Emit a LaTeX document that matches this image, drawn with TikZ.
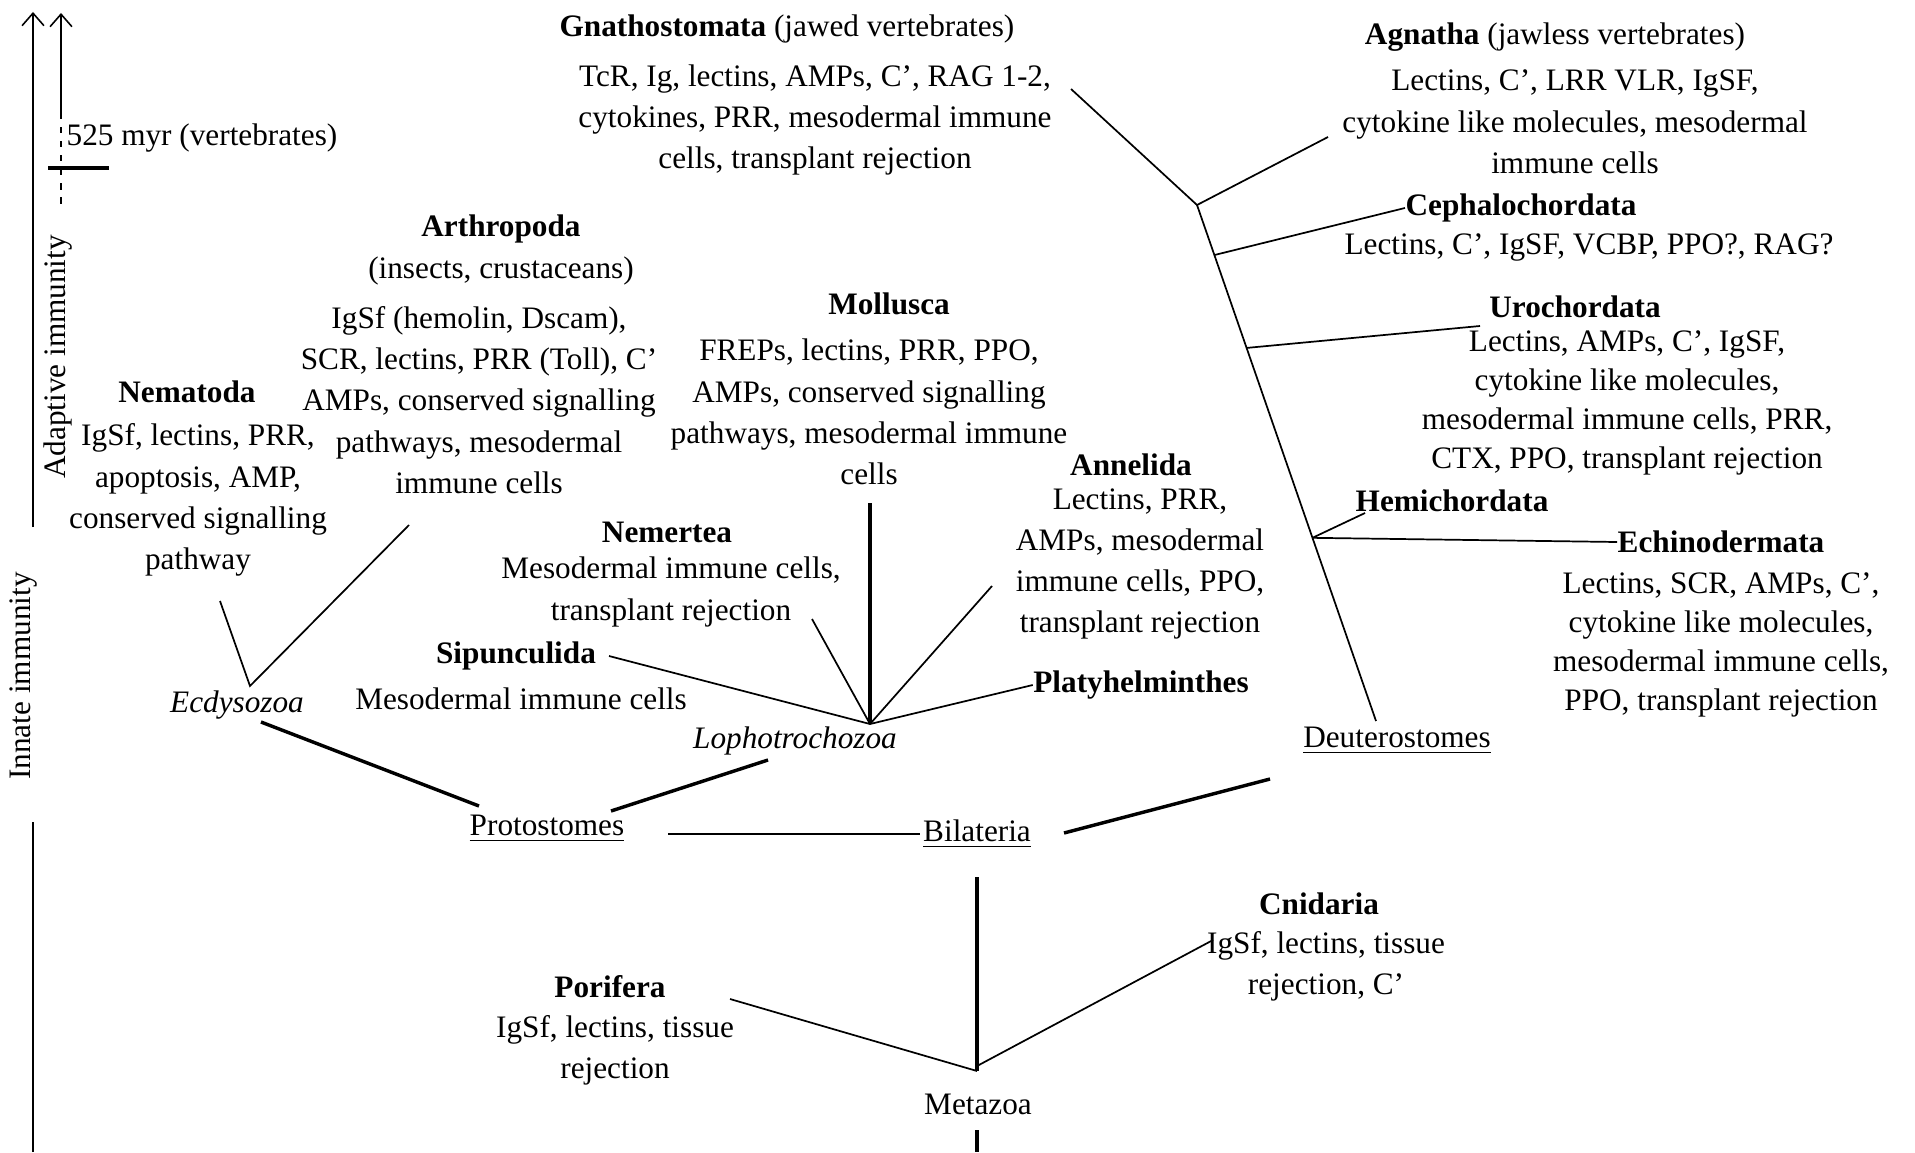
\documentclass[tikz,border=0pt]{standalone}
\usepackage{fontspec}
\setmainfont{Liberation Serif}
\usetikzlibrary{arrows.meta,calc}
\newcommand{\labelsize}{\fontsize{10}{13.2}\selectfont}

\begin{document}
\begin{tikzpicture}[x=0.32pt,y=-0.32pt,font=\labelsize,
    every node/.style={inner sep=0pt},
    taxon/.style={font=\labelsize\bfseries},
    traits/.style={align=center},
    tight/.style={align=center,font=\fontsize{10}{12.5}\selectfont},
    clade/.style={font=\labelsize\itshape},
    branch/.style={line width=0.55pt},
    stem/.style={line width=1.1pt},
    axis/.style={line width=0.5pt,-{Straight Barb[length=4pt,width=7pt]}}]
    \useasboundingbox (0,0) rectangle (1915,1152);

    % time axis
    \coordinate (adtop) at (33,12);
    \coordinate (adbot) at (33,527);
    \coordinate (intop) at (33,822);
    \coordinate (inbot) at (33,1152);
    \coordinate (vtop) at (61,13);
    \coordinate (vmid) at (61,113);
    \coordinate (vbot) at (61,205);
    \coordinate (tickL) at (48,168);
    \coordinate (tickR) at (109,168);
    \draw[axis] (adbot) -- (adtop);
    \draw[line width=0.5pt] (inbot) -- (intop);
    \draw[axis] (vmid) -- (vtop);
    \draw[line width=0.5pt,dash pattern=on 2pt off 2.5pt] (vmid) -- (vbot);
    \draw[line width=1pt] (tickL) -- (tickR);
    \node[anchor=west] (myr) at (66,138) {525 myr (vertebrates)};
    \node[rotate=90] (adapt) at (58,357) {Adaptive immunity};
    \node[rotate=90] (innate) at (24,676) {Innate immunity};

    % deuterostomes
    \node[anchor=west] (gnaH) at (559,29) {\textbf{Gnathostomata} (jawed vertebrates)};
    \node[traits] (gnaB) at (815,120) {TcR, Ig, lectins, AMPs, C', RAG 1-2,\\cytokines, PRR, mesodermal immune\\cells, transplant rejection};
    \node (agnH) at (1555,37) {\textbf{Agnatha} (jawless vertebrates)};
    \node[traits] (agnB) at (1575,122) {Lectins, C', LRR VLR, IgSF,\\cytokine like molecules, mesodermal\\immune cells};
    \node[taxon] (cephH) at (1521,208) {Cephalochordata};
    \node (cephB) at (1589,247) {Lectins, C', IgSF, VCBP, PPO?, RAG?};
    \node[taxon] (uroH) at (1575,307) {Urochordata};
    \node[tight] (uroB) at (1627,403) {Lectins, AMPs, C', IgSF,\\cytokine like molecules,\\mesodermal immune cells, PRR,\\CTX, PPO, transplant rejection};
    \node[taxon] (hemH) at (1452,501) {Hemichordata};
    \node[taxon] (echH) at (1721,542) {Echinodermata};
    \node[tight] (echB) at (1721,645) {Lectins, SCR, AMPs, C',\\cytokine like molecules,\\mesodermal immune cells,\\PPO, transplant rejection};
    \node (deut) at (1397,741) {\underline{Deuterostomes}};

    \coordinate (vert) at (1197,205);
    \coordinate (dbase) at (1376,721);
    \coordinate (gnatip) at (1071,89);
    \coordinate (agntip) at (1328,137);
    \coordinate (cephj) at ($(vert)!0.097!(dbase)$);
    \coordinate (uroj) at ($(vert)!0.277!(dbase)$);
    \coordinate (urotip) at (1480,326);
    \coordinate (hemj) at ($(vert)!0.645!(dbase)$);
    \coordinate (hemtip) at (1365,513);
    \draw[branch] (gnatip) -- (vert) -- (agntip);
    \draw[branch] (vert) -- (dbase);
    \draw[branch] (cephj) -- (cephH.west);
    \draw[branch] (uroj) -- (urotip);
    \draw[branch] (hemj) -- (hemtip);
    \draw[branch] (hemj) -- (echH.west);

    % protostomes
    \node[taxon] (molH) at (889,304) {Mollusca};
    \node[traits] (molB) at (869,412) {FREPs, lectins, PRR, PPO,\\AMPs, conserved signalling\\pathways, mesodermal immune\\cells};
    \node[taxon,align=center] (artH) at (501,250) {Arthropoda\\\mdseries(insects, crustaceans)};
    \node[traits] (artB) at (479,400) {IgSf (hemolin, Dscam),\\SCR, lectins, PRR (Toll), C'\\AMPs, conserved signalling\\pathways, mesodermal\\immune cells};
    \node[taxon] (nemaH) at (187,392) {Nematoda};
    \node[traits] (nemaB) at (198,500) {IgSf, lectins, PRR,\\apoptosis, AMP,\\conserved signalling\\pathway};
    \node[taxon] (nemeH) at (667,532) {Nemertea};
    \node[traits] (nemeB) at (671,592) {Mesodermal immune cells,\\transplant rejection};
    \node[taxon] (sipH) at (516,656) {Sipunculida};
    \node (sipB) at (521,699) {Mesodermal immune cells};
    \node[taxon] (annH) at (1131,465) {Annelida};
    \node[traits] (annB) at (1140,564) {Lectins, PRR,\\AMPs, mesodermal\\immune cells, PPO,\\transplant rejection};
    \node[taxon] (platy) at (1141,685) {Platyhelminthes};
    \node[clade] (ecdy) at (237,705) {Ecdysozoa};
    \node[clade] (lopho) at (795,741) {Lophotrochozoa};
    \node (proto) at (547,829) {\underline{Protostomes}};

    \coordinate (ecfork) at (250,686);
    \coordinate (nematip) at (220,601);
    \coordinate (arttip) at (409,525);
    \coordinate (lofork) at (870,724);
    \coordinate (moltip) at (870,503);
    \coordinate (nemetip) at (812,619);
    \coordinate (siptip) at (609,656);
    \coordinate (anntip) at (992,586);
    \draw[branch] (nematip) -- (ecfork) -- (arttip);
    \draw[stem] (moltip) -- (lofork);
    \draw[branch] (nemetip) -- (lofork);
    \draw[branch] (siptip) -- (lofork);
    \draw[branch] (anntip) -- (lofork);
    \draw[branch] (platy.west) -- (lofork);

    \coordinate (ecdyfoot) at (261,722);
    \coordinate (protoL) at (479,806);
    \coordinate (protoR) at (611,811);
    \coordinate (lophofoot) at (768,760);
    \draw[stem] (ecdyfoot) -- (protoL);
    \draw[stem] (protoR) -- (lophofoot);

    % bilateria and metazoa
    \node (bila) at (977,834) {\underline{Bilateria}};
    \node[taxon] (cniH) at (1319,904) {Cnidaria};
    \node[traits] (cniB) at (1326,966) {IgSf, lectins, tissue\\rejection, C'};
    \node[taxon] (porH) at (610,987) {Porifera};
    \node[traits] (porB) at (615,1050) {IgSf, lectins, tissue\\rejection};
    \node (meta) at (978,1104) {Metazoa};

    \coordinate (protoend) at (668,834);
    \coordinate (bilaL) at (920,834);
    \coordinate (bilaR) at (1064,833);
    \coordinate (deutfoot) at (1270,779);
    \coordinate (bilafoot) at (977,877);
    \coordinate (mefork) at (977,1071);
    \coordinate (cnij) at (977,1066);
    \coordinate (cnitip) at (1213,940);
    \coordinate (portip) at (730,999);
    \coordinate (metafoot) at (977,1130);
    \coordinate (root) at (977,1152);
    \draw[line width=0.85pt] (protoend) -- (bilaL);
    \draw[stem] (bilaR) -- (deutfoot);
    \draw[stem] (bilafoot) -- (mefork);
    \draw[branch] (portip) -- (mefork);
    \draw[branch] (cnij) -- (cnitip);
    \draw[stem] (metafoot) -- (root);
\end{tikzpicture}
\end{document}
